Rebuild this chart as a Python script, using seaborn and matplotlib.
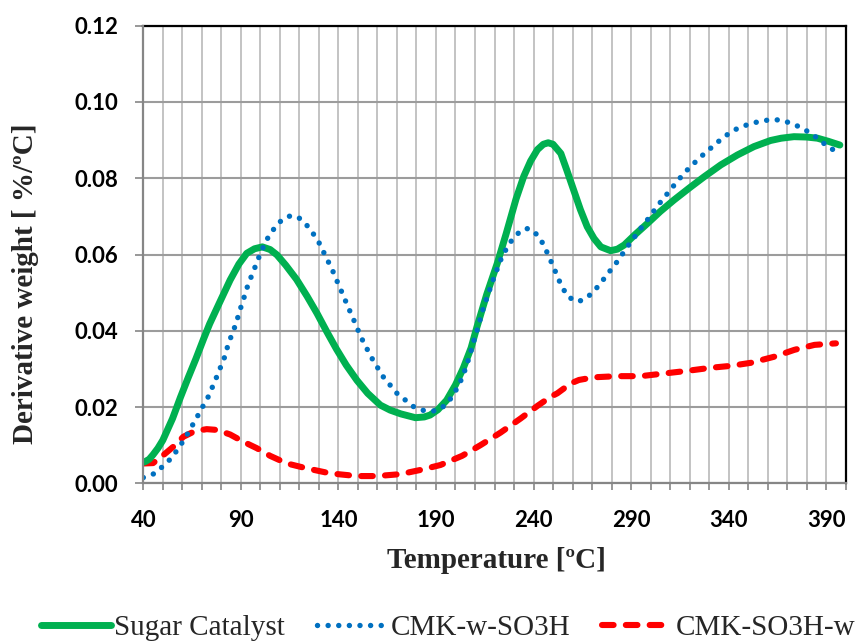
import matplotlib
matplotlib.use("Agg")
import matplotlib.pyplot as plt
import seaborn as sns
import pandas as pd
import numpy as np
from matplotlib.ticker import MultipleLocator, FormatStrFormatter

# ---------------- data ----------------
sugar_T = [40, 41, 43, 45, 47.5, 50, 55, 59, 63, 67, 71, 74, 79, 84.5, 89, 93, 97, 101, 105, 108.5,
           113, 118.5, 124, 129, 134, 139, 144, 149.5, 155, 161.5, 166.5, 172, 179.5, 184,
           187, 191, 195.5, 200, 204, 208, 211, 216, 221.5, 226, 231, 235, 238.5, 242, 245,
           247.5, 250, 254, 257, 260.5, 264, 267.5, 271, 274.5, 279.5, 283, 286.5, 292,
           298.5, 305, 312, 320, 327.5, 336, 344.5, 353, 361.5, 367, 373.5, 380, 385.5, 391, 397]
sugar_v = [0.0055, 0.0057, 0.0063, 0.0075, 0.0092, 0.0113, 0.0170, 0.0225, 0.0277, 0.0327, 0.0380, 0.0418,
           0.0473, 0.0533, 0.0575, 0.0603, 0.0615, 0.0620, 0.0613, 0.0599, 0.0572, 0.0535,
           0.0490, 0.0446, 0.0398, 0.0352, 0.0310, 0.0270, 0.0236, 0.0205, 0.0192, 0.0182,
           0.0172, 0.0174, 0.0179, 0.0193, 0.0218, 0.0258, 0.0302, 0.0355, 0.0410, 0.0495,
           0.0578, 0.0655, 0.0745, 0.0805, 0.0845, 0.0875, 0.0889, 0.0893, 0.0889, 0.0865,
           0.0822, 0.0770, 0.0718, 0.0673, 0.0642, 0.0620, 0.0610, 0.0614, 0.0625, 0.0652,
           0.0682, 0.0713, 0.0743, 0.0775, 0.0804, 0.0835, 0.0861, 0.0883, 0.0899, 0.0905,
           0.0909, 0.0908, 0.0905, 0.0897, 0.0887]

cmkw_T = [40, 41, 46, 50.3, 54.6, 58, 61.4, 64, 67, 69.6, 72.5, 74.8, 77.2, 79.4, 81.6, 83.1,
          85, 87.1, 88.8, 90.5, 92.2, 93.9, 96.2, 98.2, 100.4, 102.8, 105.9, 109.3, 113.6,
          116.5, 119.6, 123.9, 127.3, 130.4, 132.9, 135.5, 137.9, 140.1, 142.4, 144.7, 147,
          151.4, 156.7, 162.7, 170, 179, 184.3, 190.3, 194.9, 198.6, 201.4, 203.8, 205.7,
          207.4, 208.9, 210.6, 212.2, 213.7, 215.6, 217.5, 219.4, 221.4, 223.5, 226.2, 229.3,
          233.4, 236, 238.5, 242.8, 245.7, 247.9, 250.2, 252.4, 254.8, 257.9, 263, 267.9, 272,
          275.6, 279.2, 282.7, 286.1, 289.3, 292.8, 296.2, 299.6, 303, 306.6, 310.4, 313.8,
          317.7, 321.8, 325.9, 330.4, 334.7, 339.5, 344.3, 349.4, 355, 360.7, 366.5, 372.1,
          377.5, 382.3, 386.9, 391.3, 396.8]
cmkw_v = [0.0015, 0.0017, 0.0026, 0.0046, 0.0067, 0.0092, 0.0118, 0.0142, 0.0168, 0.0194,
          0.0218, 0.0245, 0.0274, 0.0302, 0.0330, 0.0357, 0.0385, 0.0413, 0.0441, 0.0470,
          0.0496, 0.0525, 0.0552, 0.0580, 0.0607, 0.0635, 0.0660, 0.0683, 0.0699, 0.0702,
          0.0697, 0.0676, 0.0653, 0.0628, 0.0601, 0.0574, 0.0548, 0.0520, 0.0494, 0.0465,
          0.0439, 0.0385, 0.0332, 0.0281, 0.0236, 0.0199, 0.0190, 0.0190, 0.0205, 0.0229,
          0.0255, 0.0281, 0.0310, 0.0336, 0.0365, 0.0393, 0.0421, 0.0450, 0.0479, 0.0507,
          0.0535, 0.0562, 0.0590, 0.0616, 0.0641, 0.0662, 0.0668, 0.0667, 0.0647, 0.0620,
          0.0594, 0.0568, 0.0540, 0.0513, 0.0488, 0.0476, 0.0489, 0.0510, 0.0533, 0.0557,
          0.0580, 0.0605, 0.0629, 0.0653, 0.0677, 0.0699, 0.0724, 0.0747, 0.0771, 0.0793,
          0.0816, 0.0837, 0.0857, 0.0877, 0.0896, 0.0915, 0.0930, 0.0940, 0.0948, 0.0953,
          0.0953, 0.0944, 0.0932, 0.0917, 0.0900, 0.0880, 0.0868]

cmks_T = [40, 45, 50.3, 55.4, 60.5, 66.5, 72.5, 77.7, 84.5, 91.3, 98.2, 105, 113.6, 123.9,
          135.8, 149.5, 159.8, 171.8, 182, 192.3, 203.4, 212.8, 223.1, 233.4, 242, 248.8,
          252.2, 259.1, 263.3, 271, 283, 295, 307, 319, 330.9, 341.2, 351.4, 363.4, 373.7,
          384, 395]
cmks_v = [0.0052, 0.0053, 0.0074, 0.0096, 0.0122, 0.0137, 0.0142, 0.0140, 0.0128, 0.0109,
          0.0092, 0.0072, 0.0052, 0.0039, 0.0026, 0.0019, 0.0019, 0.0024, 0.0035, 0.0048,
          0.0072, 0.0100, 0.0133, 0.0170, 0.0203, 0.0227, 0.0236, 0.0262, 0.0271, 0.0278,
          0.0281, 0.0281, 0.0288, 0.0295, 0.0303, 0.0308, 0.0316, 0.0332, 0.0350, 0.0363,
          0.0367]

series_names = ["Sugar Catalyst", "CMK-w-SO3H", "CMK-SO3H-w"]
x_ticks = [40, 90, 140, 190, 240, 290, 340, 390]
y_ticks = [0.00, 0.02, 0.04, 0.06, 0.08, 0.10, 0.12]

# ---------------- style ----------------
sns.set_theme(style="white")
plt.rcParams['font.family'] = ['DejaVu Sans']

fig = plt.figure(figsize=(8.63, 6.44), dpi=100)
W, H = 863, 644
L, R, T, B = 143.3, 845.7, 25.7, 483.3
ax = fig.add_axes([L / W, 1 - B / H, (R - L) / W, (B - T) / H])

df1 = pd.DataFrame({"T": sugar_T, "v": sugar_v})
df2 = pd.DataFrame({"T": cmkw_T, "v": cmkw_v})
df3 = pd.DataFrame({"T": cmks_T, "v": cmks_v})

sns.lineplot(data=df1, x="T", y="v", ax=ax, sort=False, estimator=None, color="#00B050",
             lw=5.0, label=series_names[0], solid_capstyle="round", solid_joinstyle="round", zorder=4)
sns.lineplot(data=df2, x="T", y="v", ax=ax, sort=False, estimator=None, color="#0070C0",
             lw=3.9, label=series_names[1], dashes=False, zorder=5)
sns.lineplot(data=df3, x="T", y="v", ax=ax, sort=False, estimator=None, color="#FF0000",
             lw=4.4, label=series_names[2], dashes=False, zorder=3)

lines = ax.get_lines()
lines[1].set_linestyle((0, (0.01, 1.95)))
lines[1].set_dash_capstyle("round")
lines[2].set_linestyle((0, (1.9, 2.0)))
lines[2].set_dash_capstyle("round")

ax.set_xlim(40, 400)
ax.set_ylim(0, 0.12)
ax.set_xticks(x_ticks)
ax.xaxis.set_minor_locator(MultipleLocator(10))
ax.set_yticks(y_ticks)
ax.yaxis.set_major_formatter(FormatStrFormatter('%.2f'))

ax.grid(False)
ax.xaxis.grid(True, which="both", color="#BEBEBE", lw=1.3, zorder=0)
ax.yaxis.grid(True, which="major", color="#9C9C9C", lw=1.5, zorder=0)
ax.set_axisbelow(True)

for s in ["top", "right"]:
    ax.spines[s].set_color("black")
    ax.spines[s].set_linewidth(1.6)
for s in ["left", "bottom"]:
    ax.spines[s].set_color("#868686")
    ax.spines[s].set_linewidth(1.6)
    ax.spines[s].set_zorder(6)

ax.tick_params(axis="x", which="both", direction="out", length=5, width=1.2,
               color="#868686", bottom=True)
ax.tick_params(axis="y", which="major", direction="out", length=6, width=1.2,
               color="#868686", left=True, pad=12)
ax.tick_params(axis="x", which="major", pad=14)

for lab in ax.get_xticklabels() + ax.get_yticklabels():
    lab.set_fontfamily("Lato")
    lab.set_fontweight("bold")
    lab.set_fontsize(16)
    lab.set_color("black")

ax.set_xlabel("")
ax.set_ylabel("")
fig.text(496 / W, 1 - 561 / H, "Temperature [ºC]", ha="center", va="center",
         family="Liberation Serif", fontweight="bold", fontsize=21)
fig.text(26 / W, 1 - 284 / H, "Derivative weight [ %/ºC]", ha="center", va="center",
         rotation=90, family="Liberation Serif", fontweight="bold", fontsize=21)

ax.get_legend().remove()
leg = fig.legend(handles=lines, labels=series_names, loc="center", ncol=3,
                 bbox_to_anchor=(448 / W, 1 - 628 / H), frameon=False,
                 prop={"family": "Liberation Serif", "size": 21},
                 handlelength=2.4, handletextpad=0.12, columnspacing=1.1, borderaxespad=0)

fig.savefig("out.png", dpi=100)
